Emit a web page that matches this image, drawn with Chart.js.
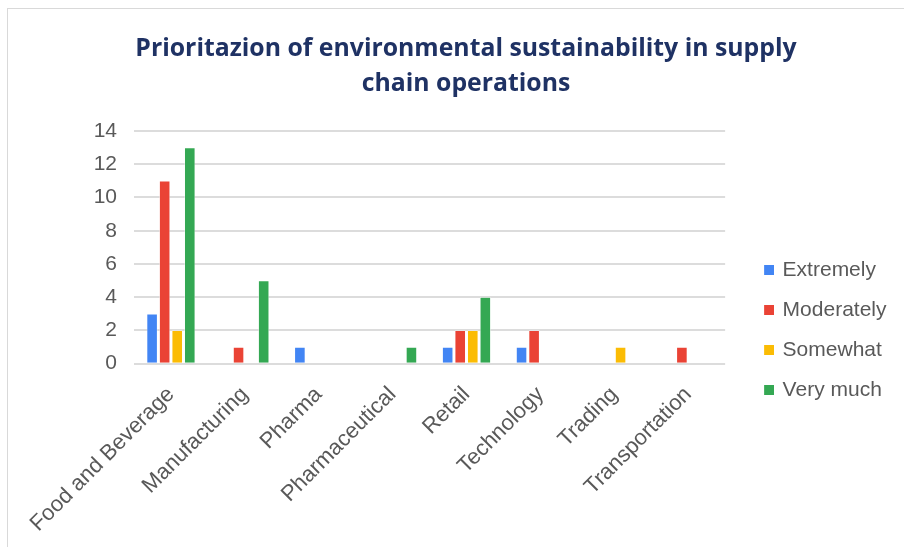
<!DOCTYPE html>
<html>
<head>
<meta charset="utf-8">
<script src="https://cdn.jsdelivr.net/npm/chart.js@4.4.1/dist/chart.umd.min.js"></script>
<style>
  html, body { margin: 0; padding: 0; background: #fff; overflow: hidden; }
  #frame {
    position: absolute; left: 7px; top: 8px;
    width: 916px; height: 570px;
    border-top: 1px solid #d9d9d9; border-left: 1px solid #d9d9d9;
  }
  #box { position: relative; width: 916px; height: 538px; }
</style>
</head>
<body>
<div id="frame"><div id="box"><canvas id="chart"></canvas></div></div>
<script>
const categories = ['Food and Beverage', 'Manufacturing', 'Pharma', 'Pharmaceutical', 'Retail', 'Technology', 'Trading', 'Transportation'];
const extremely  = [3, 0, 1, 0, 1, 1, 0, 0];
const moderately = [11, 1, 0, 0, 2, 2, 0, 1];
const somewhat   = [2, 0, 0, 0, 2, 0, 1, 0];
const veryMuch   = [13, 5, 0, 1, 4, 0, 0, 0];
const yTicks = [0, 2, 4, 6, 8, 10, 12, 14];

const colors = ['#4285f4', '#ea4335', '#fbbc04', '#34a853'];
const grey = '#595959';

// legend marker: small square at the right end of a wider transparent strip,
// so the squares sit further away from the plot
const ICON_W = 28;
function legendIcon(color) {
    const c = document.createElement('canvas');
    c.width = 32;
    c.height = 10;
    const g = c.getContext('2d');
    g.fillStyle = color;
    g.fillRect(c.width - 10, 0, 10, 10);
    return c;
}
const icons = colors.map(legendIcon);

function series(label, data, color) {
    return {
        label: label,
        data: data,
        backgroundColor: color,
        borderColor: '#ffffff',
        borderWidth: 0.6,
        barPercentage: 0.86,
        categoryPercentage: 0.68
    };
}

new Chart(document.getElementById('chart'), {
    type: 'bar',
    data: {
        labels: categories,
        datasets: [
            series('Extremely', extremely, colors[0]),
            series('Moderately', moderately, colors[1]),
            series('Somewhat', somewhat, colors[2]),
            series('Very much', veryMuch, colors[3])
        ]
    },
    options: {
        responsive: true,
        maintainAspectRatio: false,
        animation: false,
        layout: { padding: { left: 27.5, right: 27.5, top: 0, bottom: 0 } },
        plugins: {
            title: {
                display: true,
                text: ['Prioritazion of environmental sustainability in supply', 'chain operations'],
                color: '#1f3264',
                font: { family: 'Open Sans', size: 24.8, weight: 'bold', lineHeight: '35px' },
                padding: { top: 22, bottom: 30 }
            },
            legend: {
                position: 'right',
                // empty title only pushes the entries down
                title: { display: true, text: '', padding: { top: 90, bottom: 0 } },
                labels: {
                    usePointStyle: true,
                    pointStyleWidth: ICON_W,
                    boxHeight: 10,
                    padding: 19,
                    color: grey,
                    font: { family: 'Liberation Sans', size: 21 },
                    generateLabels: chart => {
                        const items = Chart.defaults.plugins.legend.labels.generateLabels(chart);
                        items.forEach((item, i) => { item.pointStyle = icons[i]; });
                        return items;
                    }
                }
            },
            tooltip: { enabled: false }
        },
        scales: {
            x: {
                grid: { display: false },
                border: { display: false },
                ticks: {
                    color: grey,
                    maxRotation: 45,
                    minRotation: 45,
                    padding: 10,
                    font: { family: 'Liberation Sans', size: 22 }
                }
            },
            y: {
                min: 0,
                max: 14,
                afterBuildTicks: axis => { axis.ticks = yTicks.map(v => ({ value: v })); },
                afterFit: scale => { scale.width = 98.5; },
                grid: { color: '#dcdcdc', lineWidth: 2, drawTicks: false },
                border: { display: false },
                ticks: {
                    color: grey,
                    padding: 17,
                    font: { family: 'Liberation Sans', size: 21 }
                }
            }
        }
    }
});
</script>
</body>
</html>
